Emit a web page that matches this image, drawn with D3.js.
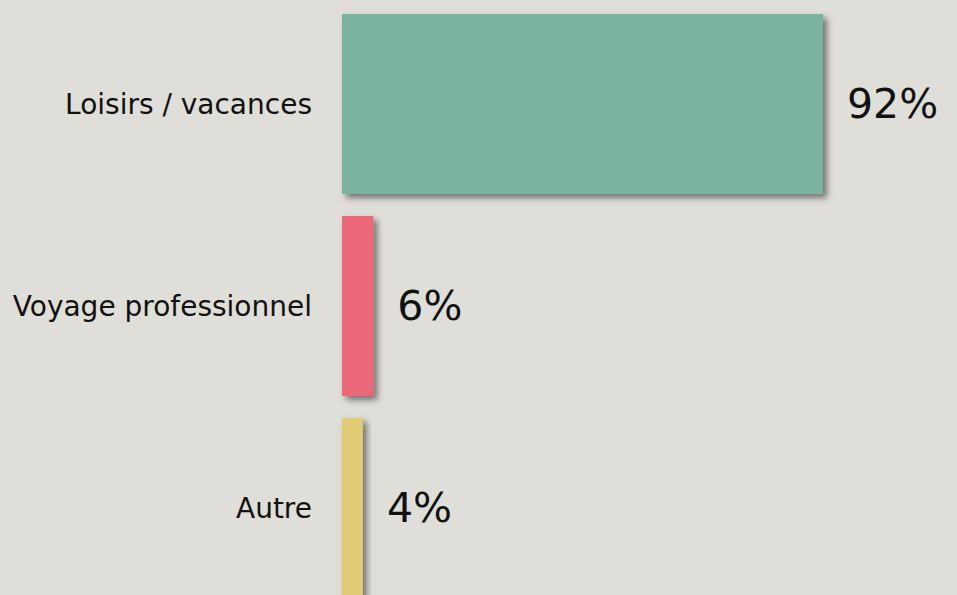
<!DOCTYPE html>
<html>
<head>
<meta charset="utf-8">
<script src="https://cdn.jsdelivr.net/npm/d3@7"></script>
<style>
  body { margin: 0; background: #dfded8; }
  svg { display: block; }
  text { font-family: "DejaVu Sans", Verdana, sans-serif; fill: #111; }
</style>
</head>
<body>
<div id="plot"></div>
<script>
// data
var categories = ['Loisirs / vacances', 'Voyage professionnel', 'Autre'];
var values = [92, 6, 4];
var colors = ['#7ab4a0', '#ec6779', '#e1cc75'];

var width = 957, height = 595;

var svg = d3.select('#plot')
    .append('svg')
    .attr('width', width)
    .attr('height', height);

// drop shadow
var defs = svg.append('defs');
var filter = defs.append('filter')
    .attr('id', 'shadow')
    .attr('x', '-20%').attr('y', '-20%')
    .attr('width', '160%').attr('height', '160%');
filter.append('feDropShadow')
    .attr('dx', 4).attr('dy', 4)
    .attr('stdDeviation', 3)
    .attr('flood-color', '#444')
    .attr('flood-opacity', 0.7);

var x = d3.scaleLinear()
    .domain([0, 92])
    .range([342, 823]);

var y = d3.scaleBand()
    .domain(categories)
    .range([14, 598])
    .paddingInner(0.109)
    .paddingOuter(0);

var bars = svg.selectAll('.bar')
    .data(categories)
    .enter()
    .append('g')
    .attr('class', 'bar');

bars.append('rect')
    .attr('x', x(0))
    .attr('y', function(d) { return y(d); })
    .attr('width', function(d, i) { return x(values[i]) - x(0); })
    .attr('height', y.bandwidth())
    .style('fill', function(d, i) { return colors[i]; })
    .attr('filter', 'url(#shadow)');

// category labels
bars.append('text')
    .attr('x', x(0) - 30)
    .attr('y', function(d) { return y(d) + y.bandwidth() / 2; })
    .attr('dy', '0.35em')
    .attr('text-anchor', 'end')
    .style('font-size', '28px')
    .text(function(d) { return d; });

// value labels
bars.append('text')
    .attr('x', function(d, i) { return x(values[i]) + 24; })
    .attr('y', function(d) { return y(d) + y.bandwidth() / 2; })
    .attr('dy', '0.35em')
    .style('font-size', '41px')
    .text(function(d, i) { return values[i] + '%'; });
</script>
</body>
</html>
